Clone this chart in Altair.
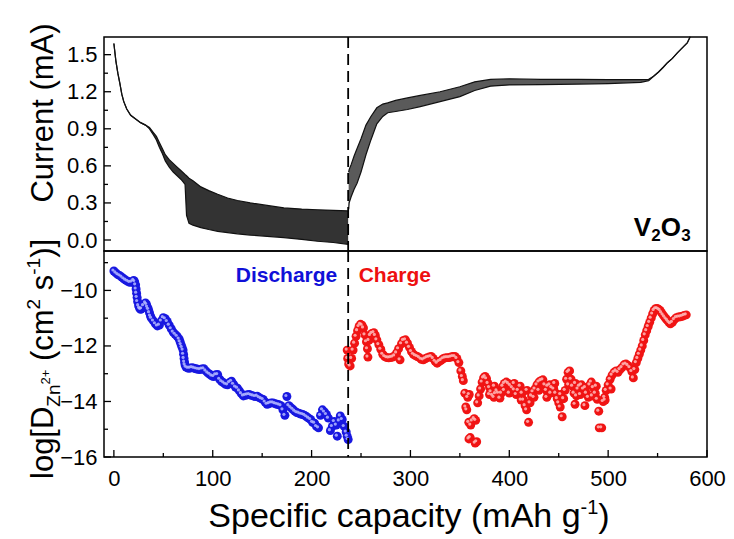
import altair as alt
import pandas as pd

# ---------------- data ----------------
# current (mA) vs specific capacity: GITT pulse band, upper / lower envelope
dis_cap = [0, 2, 4, 6, 8, 10, 13, 17, 22, 27, 32, 36, 40, 43, 46, 49, 52, 56, 60, 64, 68, 72, 73.5, 76, 80, 88, 96, 105, 115, 125, 138, 155, 172, 190, 206, 222, 237]
dis_up = [1.59, 1.45, 1.35, 1.27, 1.18, 1.12, 1.06, 1.01, 0.98, 0.95, 0.93, 0.91, 0.87, 0.84, 0.79, 0.74, 0.69, 0.65, 0.62, 0.59, 0.56, 0.53, 0.52, 0.50, 0.48, 0.43, 0.40, 0.37, 0.34, 0.32, 0.30, 0.28, 0.26, 0.25, 0.245, 0.24, 0.235]
dis_lo = [1.59, 1.45, 1.35, 1.27, 1.18, 1.12, 1.06, 1.01, 0.98, 0.95, 0.93, 0.90, 0.85, 0.81, 0.75, 0.70, 0.64, 0.59, 0.55, 0.52, 0.49, 0.45, 0.20, 0.135, 0.12, 0.10, 0.085, 0.07, 0.06, 0.05, 0.04, 0.03, 0.02, 0.005, -0.01, -0.02, -0.035]

chg_cap = [237.5, 238, 240, 243, 246, 250, 255, 260, 266, 272, 277, 285, 297, 310, 330, 350, 365, 381, 400, 432, 470, 500, 533, 541, 546, 551, 556, 560, 565, 570, 575, 580, 583]
chg_up = [0.55, 0.57, 0.61, 0.68, 0.74, 0.82, 0.93, 1.00, 1.07, 1.10, 1.11, 1.13, 1.15, 1.17, 1.20, 1.24, 1.28, 1.30, 1.305, 1.30, 1.30, 1.298, 1.298, 1.30, 1.325, 1.36, 1.40, 1.435, 1.47, 1.515, 1.555, 1.595, 1.645]
chg_lo = [0.25, 0.30, 0.35, 0.41, 0.46, 0.55, 0.69, 0.81, 0.94, 1.00, 1.03, 1.04, 1.056, 1.08, 1.12, 1.16, 1.21, 1.245, 1.255, 1.258, 1.262, 1.266, 1.276, 1.29, 1.325, 1.36, 1.40, 1.435, 1.47, 1.515, 1.555, 1.595, 1.645]

# log D (discharge, blue)
dis_x = [0, 2, 4, 6, 8, 10, 12, 14, 16, 18, 20, 21, 22, 22.5, 23, 23.5, 24, 25, 26, 27,
         28, 30, 32, 33, 34, 35, 36, 37, 38, 40, 42, 44, 46, 48, 50, 52, 54, 56, 58, 60,
         62, 64, 66, 67, 68, 69, 70, 70.5, 71, 71.5, 72, 73, 75, 77, 79, 81, 83, 85, 87, 89,
         91, 93, 95, 97, 99, 101, 103, 105, 107, 109, 111, 113, 115, 117, 119, 121, 123, 125, 127, 129,
         131, 133, 135, 137, 139, 141, 143, 145, 147, 149, 151, 153, 155, 157, 159, 161, 163, 165, 167, 169,
         171, 173, 175, 177, 179, 181, 183, 185, 187, 189, 191, 193, 195, 197, 199, 201, 203, 205, 207, 209,
         211, 213, 215, 217, 219, 221, 223, 225, 226, 228, 229, 231, 233, 235, 236, 237]
dis_logD = [-9.30, -9.37, -9.43, -9.47, -9.52, -9.58, -9.63, -9.67, -9.71, -9.70, -9.64, -9.68, -9.80, -9.95, -10.10, -10.25, -10.40, -10.55, -10.64, -10.68,
            -10.66, -10.55, -10.45, -10.50, -10.60, -10.68, -10.80, -10.92, -11.00, -11.10, -11.20, -11.28, -11.25, -11.10, -10.98, -11.02, -11.12, -11.25, -11.38, -11.50,
            -11.58, -11.65, -11.75, -11.85, -11.95, -12.05, -12.15, -12.30, -12.45, -12.58, -12.68, -12.76, -12.80, -12.80, -12.78, -12.80, -12.82, -12.84, -12.85, -12.83,
            -12.82, -12.90, -12.97, -13.02, -13.08, -13.10, -13.04, -13.03, -13.20, -13.28, -13.33, -13.38, -13.40, -13.32, -13.27, -13.38, -13.48, -13.52, -13.62, -13.72,
            -13.80, -13.78, -13.76, -13.75, -13.78, -13.80, -13.82, -13.81, -13.86, -13.90, -13.93, -14.02, -14.10, -14.08, -14.05, -14.05, -14.08, -14.10, -14.12, -14.15,
            -14.30, -14.50, -13.82, -14.15, -14.22, -14.28, -14.35, -14.40, -14.42, -14.45, -14.47, -14.50, -14.55, -14.60, -14.65, -14.75, -14.78, -14.90, -14.95, -14.50,
            -14.30, -14.38, -14.47, -14.60, -15.05, -14.90, -14.72, -14.85, -15.25, -14.70, -14.52, -14.65, -14.90, -15.10, -15.25, -15.37]

# log D (charge, red)
chg_x = [236, 236.5, 237.5, 239, 240.5, 242, 243.5, 245, 246.5, 248, 249.5, 251, 252.5, 254, 255.5, 256.5, 257, 258, 259.5, 261,
         263, 264.5, 266, 268, 270, 272, 274, 276, 278, 280, 282, 284, 286, 288, 289.5, 291, 293, 295, 297, 299,
         301, 303, 305, 307, 309, 311, 313, 315, 317, 319, 321, 323, 325, 327, 329, 331, 333, 335, 337, 339,
         341, 343, 345, 347, 349, 351, 352.5, 353.5, 355, 356, 357, 358, 359.5, 359, 361, 362.5, 359.2, 360.5, 364.5, 366,
         365.5, 367, 368, 369.5, 371, 372.5, 374, 375.5, 377, 378.5, 380, 381.5, 383, 384.5, 386, 387.5, 389, 390.5, 392, 393.5,
         395, 397, 399, 401, 403, 405, 407, 409, 411, 413, 414.5, 416, 417.5, 419.5, 421, 422.5, 424, 426, 428, 430,
         432, 434, 436, 437.5, 439, 441, 443, 445, 447, 448.5, 450, 451.5, 453.5, 455, 456.5, 458, 459.5, 461, 462.5, 464,
         465.5, 466.5, 468, 469.5, 471, 473, 475, 476.5, 478, 480, 481.5, 483, 485, 487, 489, 490.5, 491, 493.5, 495, 496.5,
         498, 500, 502, 504, 506, 508, 510, 512, 514, 516, 518, 520, 522, 524, 525.5, 527, 528.5, 530, 531.5, 533,
         534.5, 536, 537.5, 539, 540.5, 542, 543.5, 545, 546.5, 548, 549.5, 551, 552.5, 554, 555.5, 557, 558.5, 560, 561.5, 563,
         565, 567, 569, 571, 573, 575, 577, 579,
         380, 385, 395, 400, 405, 412, 418, 425, 430, 438, 442, 446, 452, 460, 467, 472, 477, 484, 488, 497, 503]
chg_logD = [-12.15, -12.45, -12.65, -12.72, -12.45, -12.15, -11.90, -11.65, -11.45, -11.30, -11.22, -11.25, -11.35, -11.60, -11.85, -12.10, -12.40, -11.80, -11.62, -11.55,
            -11.52, -11.62, -11.78, -11.95, -12.12, -12.30, -12.38, -12.42, -12.43, -12.42, -12.40, -12.36, -12.25, -12.10, -12.50, -11.92, -11.80, -11.78, -11.90, -12.05,
            -12.20, -12.30, -12.35, -12.38, -12.42, -12.48, -12.50, -12.46, -12.42, -12.40, -12.38, -12.45, -12.55, -12.62, -12.56, -12.52, -12.46, -12.43, -12.42, -12.42,
            -12.40, -12.38, -12.38, -12.45, -12.60, -12.90, -13.10, -13.25, -13.70, -14.20, -14.30, -13.85, -13.75, -14.75, -14.85, -14.70, -15.35, -15.30, -14.62, -14.68,
            -15.50, -15.45, -14.05, -13.80, -13.55, -13.30, -13.15, -13.10, -13.18, -13.35, -13.50, -13.65, -13.78, -13.85, -13.72, -13.62, -13.70, -13.88, -13.70, -13.45,
            -13.35, -13.30, -13.35, -13.42, -13.50, -13.58, -13.75, -13.60, -13.45, -13.70, -13.95, -14.15, -14.30, -14.75, -14.05, -13.80, -13.65, -13.55, -13.40, -13.30,
            -13.25, -13.22, -13.40, -13.60, -13.45, -13.40, -13.50, -13.55, -13.70, -13.90, -14.05, -14.20, -14.55, -13.90, -13.60, -13.20, -12.95, -12.90, -13.20, -13.45,
            -13.70, -14.10, -13.80, -13.55, -13.45, -13.40, -13.55, -14.15, -13.70, -13.85, -13.40, -13.30, -13.50, -13.70, -13.92, -14.35, -14.95, -14.95, -14.00, -13.85,
            -13.60, -13.40, -13.20, -13.05, -12.95, -12.90, -12.95, -12.85, -12.78, -12.68, -12.65, -12.70, -12.78, -12.92, -13.15, -12.85, -12.60, -12.45, -12.30, -12.15,
            -12.00, -11.80, -11.60, -11.45, -11.30, -11.15, -11.00, -10.85, -10.72, -10.66, -10.65, -10.68, -10.72, -10.80, -10.88, -10.95, -11.02, -11.08, -11.15, -11.20,
            -11.15, -11.05, -10.98, -10.96, -10.95, -10.93, -10.90, -10.88,
            -13.75, -13.45, -13.60, -13.70, -13.35, -13.95, -13.60, -13.85, -13.60, -13.85, -13.70, -13.35, -13.75, -13.40, -13.35, -13.75, -13.50, -13.80, -13.45, -13.95, -13.55]

switch_cap = [237]
x_major = [0, 100, 200, 300, 400, 500, 600]
x_minor = [50, 150, 250, 350, 450, 550]
top_major = [0.0, 0.3, 0.6, 0.9, 1.2, 1.5]
top_minor = [0.15, 0.45, 0.75, 1.05, 1.35]
bot_major = [-16, -14, -12, -10]
bot_minor = [-15, -13, -11, -9]

label_dis = ["Discharge"]
label_dis_pos = [226, -9.68]
label_chg = ["Charge"]
label_chg_pos = [247.6, -9.68]
label_mat_pos = [526, 0.03]

# ---------------- layout / style ----------------
FONT = "Liberation Sans"
W, HT, HB = 603, 214, 206
TFS = 31  # axis title font size
AW = {"l": 222, "o": 556, "g": 556, "[": 278, "D": 722, "Z": 611, "n": 556, "2": 556, "+": 584,
      " ": 278, "(": 333, "c": 500, "m": 833, "s": 500, "-": 333, "1": 556, ")": 333, "]": 278,
      "S": 667, "p": 556, "e": 556, "i": 222, "f": 278, "a": 556, "t": 278, "y": 500, "A": 667, "h": 556}


def tw(s, size):
    return sum(AW[c] for c in s) / 1000.0 * size


xsc = alt.Scale(domain=[-10, 600], nice=False, zero=False)
ytsc = alt.Scale(domain=[-0.089, 1.643], nice=False, zero=False)
ybsc = alt.Scale(domain=[-16, -8.58], nice=False, zero=False)

one = pd.DataFrame({"k": [0]})


def txt(text, x, y, size, angle=None, color="black", weight="normal", align="left", baseline="alphabetic"):
    kw = dict(text=text, font=FONT, fontSize=size, color=color, fontWeight=weight, align=align, baseline=baseline)
    if angle is not None:
        kw["angle"] = angle
    return alt.Chart(one).mark_text(**kw).encode(x=alt.value(x), y=alt.value(y))


# ---------- top panel ----------
ax_top = alt.Axis(values=top_major, format=".1f", title=None, grid=False, domain=False, ticks=False,
                  labelFont=FONT, labelFontSize=22, labelColor="black", labelPadding=7)


def XT(f):
    return alt.X(f, scale=xsc, axis=None)


def YT(f):
    return alt.Y(f, scale=ytsc, axis=ax_top)


df_dis = pd.DataFrame({"cap": dis_cap, "up": dis_up, "lo": dis_lo})
df_chg = pd.DataFrame({"cap": chg_cap, "up": chg_up, "lo": chg_lo})

band_d = alt.Chart(df_dis).mark_area(color="#333333").encode(x=XT("cap:Q"), y=YT("up:Q"), y2="lo:Q")
band_c = alt.Chart(df_chg).mark_area(color="#5a5a5a").encode(x=XT("cap:Q"), y=YT("up:Q"), y2="lo:Q")
edges = []
for df in (df_dis, df_chg):
    for f in ("up", "lo"):
        edges.append(alt.Chart(df).mark_line(color="#111111", strokeWidth=1.2).encode(
            x=XT("cap:Q"), y=YT(f + ":Q")))

tick_t1 = alt.Chart(pd.DataFrame({"v": top_major})).mark_rule(color="black", strokeWidth=1.3).encode(
    y=YT("v:Q"), x=alt.value(0), x2=alt.value(7))
tick_t2 = alt.Chart(pd.DataFrame({"v": top_minor})).mark_rule(color="black", strokeWidth=1.3).encode(
    y=YT("v:Q"), x=alt.value(0), x2=alt.value(4))

dash_t = alt.Chart(pd.DataFrame({"cap": switch_cap})).mark_rule(
    color="black", strokeDash=[11, 6], strokeWidth=1.8).encode(x=XT("cap:Q"))

mat = pd.DataFrame({"x": [label_mat_pos[0]], "y": [label_mat_pos[1]]})


def mat_piece(t, size, dx, dy):
    return alt.Chart(mat).mark_text(text=t, font=FONT, fontSize=size, fontWeight="bold", color="black",
                                    align="left", baseline="alphabetic", dx=dx, dy=dy).encode(
        x=XT("x:Q"), y=YT("y:Q"))


mat_layers = [mat_piece("V", 26, 0, 0), mat_piece("2", 17, 17.5, 5),
              mat_piece("O", 26, 27, 0), mat_piece("3", 17, 47.5, 5)]

title_top = txt("Current (mA)", -51, 76, TFS, angle=270, align="center")

top = alt.layer(band_d, band_c, *edges, tick_t1, tick_t2, dash_t, *mat_layers, title_top).properties(
    width=W, height=HT)

# ---------- bottom panel ----------
ax_bot = alt.Axis(values=bot_major, format="d", title=None, grid=False, domain=False, ticks=False,
                  labelFont=FONT, labelFontSize=22, labelColor="black", labelPadding=7)
ax_x = alt.Axis(values=x_major, format="d", title=None, grid=False, domain=False, ticks=False,
                labelFont=FONT, labelFontSize=22, labelColor="black", labelPadding=11,
                labelFlush=False, labelOverlap=False)


def XB_(f):
    return alt.X(f, scale=xsc, axis=ax_x)


def YB_(f):
    return alt.Y(f, scale=ybsc, axis=ax_bot)


df_pd = pd.DataFrame({"cap": dis_x, "logD": dis_logD})
df_pc = pd.DataFrame({"cap": chg_x, "logD": chg_logD})

pts_d = alt.Chart(df_pd).mark_circle(size=80, color="#1818e0", opacity=1).encode(x=XB_("cap:Q"), y=YB_("logD:Q"))
hl_d = alt.Chart(df_pd).mark_circle(size=10, color="#b4b8ff", opacity=0.85, xOffset=-1, yOffset=-1).encode(
    x=XB_("cap:Q"), y=YB_("logD:Q"))
pts_c = alt.Chart(df_pc).mark_circle(size=80, color="#f01414", opacity=1).encode(x=XB_("cap:Q"), y=YB_("logD:Q"))
hl_c = alt.Chart(df_pc).mark_circle(size=10, color="#ffb8b8", opacity=0.85, xOffset=-1, yOffset=-1).encode(
    x=XB_("cap:Q"), y=YB_("logD:Q"))

tick_b1 = alt.Chart(pd.DataFrame({"v": bot_major})).mark_rule(color="black", strokeWidth=1.3).encode(
    y=YB_("v:Q"), x=alt.value(0), x2=alt.value(7))
tick_b2 = alt.Chart(pd.DataFrame({"v": bot_minor})).mark_rule(color="black", strokeWidth=1.3).encode(
    y=YB_("v:Q"), x=alt.value(0), x2=alt.value(4))
tick_x1 = alt.Chart(pd.DataFrame({"v": x_major})).mark_rule(color="black", strokeWidth=1.3).encode(
    x=XB_("v:Q"), y=alt.value(HB), y2=alt.value(HB - 7))
tick_x2 = alt.Chart(pd.DataFrame({"v": x_minor})).mark_rule(color="black", strokeWidth=1.3).encode(
    x=XB_("v:Q"), y=alt.value(HB), y2=alt.value(HB - 4))

dash_b = alt.Chart(pd.DataFrame({"cap": switch_cap})).mark_rule(
    color="black", strokeDash=[11, 6], strokeWidth=1.8).encode(x=XB_("cap:Q"))

lab_d = alt.Chart(pd.DataFrame({"x": [label_dis_pos[0]], "y": [label_dis_pos[1]], "t": label_dis})).mark_text(
    font=FONT, fontSize=21, fontWeight="bold", color="#1010d8", align="right", baseline="alphabetic").encode(
    x=XB_("x:Q"), y=YB_("y:Q"), text="t:N")
lab_c = alt.Chart(pd.DataFrame({"x": [label_chg_pos[0]], "y": [label_chg_pos[1]], "t": label_chg})).mark_text(
    font=FONT, fontSize=21, fontWeight="bold", color="#ee1010", align="left", baseline="alphabetic").encode(
    x=XB_("x:Q"), y=YB_("y:Q"), text="t:N")

# composite y title: log[D_{Zn^{2+}} (cm^2 s^-1)]  (rotated, reading upward)
BX = -51
pieces = [("log[D", TFS, 0, 0), ("Zn", 19, 7, 0), ("2+", 13, -3, 0), ("(cm", TFS, 0, tw(" ", TFS)),
          ("2", 19, -13, 0), ("s", TFS, 0, tw(" ", TFS)), ("-1", 19, -13, 0), (")]", TFS, 0, 0)]
ytit = []
ycur = 228.0
for t, fs, off, lead in pieces:
    ycur -= lead
    ytit.append(txt(t, BX + off, ycur, fs, angle=270, align="left"))
    ycur -= tw(t, fs)

# composite x title: Specific capacity (mAh g^-1)
XFS = 34
main_t = "Specific capacity (mAh g"
tot = tw(main_t, XFS) + tw("-1", 20) + tw(")", XFS)
x0 = 305 - tot / 2
XBL = 276
xtit = [txt(main_t, x0, XBL, XFS),
        txt("-1", x0 + tw(main_t, XFS), XBL - 13, 20),
        txt(")", x0 + tw(main_t, XFS) + tw("-1", 20), XBL, XFS)]

bot = alt.layer(pts_d, hl_d, pts_c, hl_c, tick_b1, tick_b2, tick_x1, tick_x2, dash_b,
                lab_d, lab_c, *ytit, *xtit).properties(width=W, height=HB)

chart = alt.vconcat(top, bot, spacing=0, bounds="flush").properties(
    padding={"left": 24, "top": 22, "right": 0, "bottom": 0}, background="white"
).configure_view(stroke="black", strokeWidth=1.5)

chart.save("out.html", embed_options={"renderer": "svg", "actions": False})
